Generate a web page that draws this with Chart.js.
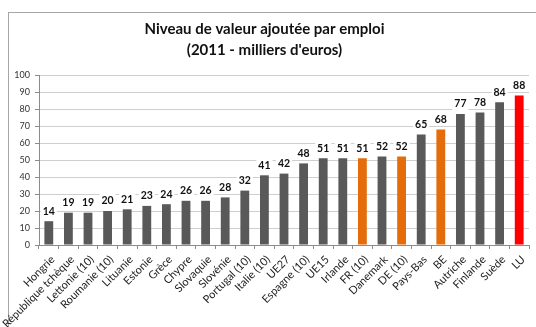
<!DOCTYPE html>
<html>
<head>
<meta charset="utf-8">
<script src="https://cdn.jsdelivr.net/npm/chart.js@4/dist/chart.umd.min.js"></script>
<style>
  html, body { margin: 0; padding: 0; background: #fff; }
  #wrap { width: 536px; height: 327px; position: relative; }
</style>
</head>
<body>
<div id="wrap"><canvas id="c" width="536" height="327"></canvas></div>
<script>
// Pays / zones (tri croissant)
const categories = [
  'Hongrie', 'République tchèque', 'Lettonie (10)', 'Roumanie (10)', 'Lituanie',
  'Estonie', 'Grèce', 'Chypre', 'Slovaquie', 'Slovénie', 'Portugal (10)',
  'Italie (10)', 'UE27', 'Espagne (10)', 'UE15', 'Irlande', 'FR (10)',
  'Danemark', 'DE (10)', 'Pays-Bas', 'BE', 'Autriche', 'Finlande', 'Suède', 'LU'
];
// Valeur ajoutée par emploi, 2011, milliers d'euros
const values = [14, 19, 19, 20, 21, 23, 24, 26, 26, 28, 32, 41, 42, 48, 51, 51, 51, 52, 52, 65, 68, 77, 78, 84, 88];
// Pays voisins mis en évidence
const highlighted = ['FR (10)', 'DE (10)', 'BE'];
const focus = ['LU'];
const yTicks = [0, 10, 20, 30, 40, 50, 60, 70, 80, 90, 100];

const GREY = '#595959', ORANGE = '#E46C0A', RED = '#FF0000';
const barColors = categories.map(c => focus.includes(c) ? RED : (highlighted.includes(c) ? ORANGE : GREY));

// Cadre du graphique
const framePlugin = {
  id: 'frame',
  beforeDraw(chart) {
    const ctx = chart.ctx;
    ctx.save();
    ctx.fillStyle = '#fff';
    ctx.fillRect(0, 0, chart.width, chart.height);
    ctx.strokeStyle = '#a6a6a6';
    ctx.lineWidth = 1;
    ctx.strokeRect(8.5, 12.5, chart.width + 20, chart.height + 20);
    ctx.restore();
  }
};

// Étiquettes de valeur au-dessus des barres (fond blanc)
const valueLabels = {
  id: 'valueLabels',
  afterDatasetsDraw(chart) {
    const ctx = chart.ctx;
    const meta = chart.getDatasetMeta(0);
    ctx.save();
    ctx.font = 'bold 10.5px Lato';
    ctx.textAlign = 'center';
    ctx.textBaseline = 'middle';
    meta.data.forEach((bar, i) => {
      const txt = String(values[i]);
      const w = ctx.measureText(txt).width;
      const cy = bar.y - 10.5;
      ctx.fillStyle = '#fff';
      ctx.fillRect(bar.x - w / 2 - 2, cy - 6.5, w + 4, 13);
      ctx.fillStyle = '#111';
      ctx.fillText(txt, bar.x, cy + 0.5);
    });
    ctx.restore();
  }
};

new Chart(document.getElementById('c'), {
  type: 'bar',
  data: {
    labels: categories,
    datasets: [{
      data: values,
      backgroundColor: barColors,
      borderWidth: 0,
      barPercentage: 0.45,
      categoryPercentage: 1.0
    }]
  },
  options: {
    responsive: false,
    animation: false,
    devicePixelRatio: 1,
    layout: { padding: { left: 0, right: 7, top: 0, bottom: 0 } },
    plugins: {
      legend: { display: false },
      tooltip: { enabled: false },
      title: {
        display: true,
        text: ['Niveau de valeur ajoutée par emploi', "(2011 - milliers d'euros)"],
        color: '#111',
        font: { family: 'Lato', size: 15, weight: 'bold', lineHeight: 1.45 },
        padding: { top: 18, bottom: 13.5 }
      }
    },
    scales: {
      x: {
        afterFit(scale) { scale.height = 82; },
        grid: {
          display: true,
          drawOnChartArea: false,
          offset: true,
          tickLength: 4,
          tickColor: '#8c8c8c'
        },
        border: { color: '#8c8c8c' },
        ticks: {
          autoSkip: false,
          maxRotation: 45,
          minRotation: 45,
          padding: 4,
          labelOffset: 4,
          color: '#222',
          font: { family: 'Lato', size: 11 }
        }
      },
      y: {
        min: 0,
        max: 100,
        afterFit(scale) { scale.width = 39; },
        afterBuildTicks(scale) { scale.ticks = yTicks.map(v => ({ value: v })); },
        grid: {
          color: '#cfcfcf',
          tickColor: '#8c8c8c',
          tickLength: 4
        },
        border: { color: '#8c8c8c' },
        ticks: {
          padding: 5,
          color: '#333',
          font: { family: 'Lato', size: 9 }
        }
      }
    }
  },
  plugins: [framePlugin, valueLabels]
});
</script>
</body>
</html>
